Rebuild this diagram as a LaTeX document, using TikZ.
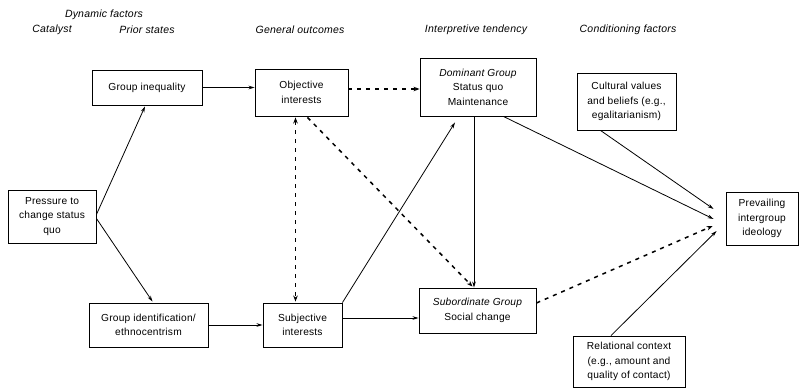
\documentclass[tikz,border=0pt]{standalone}
\usepackage{fontspec}
\setmainfont{Liberation Sans}
\usetikzlibrary{arrows.meta,calc}
\begin{document}
\begin{tikzpicture}[x=1pt,y=-1pt,
  box/.style={draw,line width=0.9pt,align=center,font=\fontsize{10.2}{14.5}\selectfont\addfontfeatures{LetterSpace=2},inner sep=1pt},
  hdr/.style={font=\fontsize{10.5}{12}\selectfont\itshape\addfontfeatures{LetterSpace=2}},
  arr/.style={line width=0.8pt,-{Stealth[length=6pt,width=3.6pt]}},
  darr/.style={line width=1.5pt,dash pattern=on 4pt off 5pt,-{Stealth[length=6pt,width=4.5pt]}},
  ddarr/.style={line width=1.5pt,dash pattern=on 4pt off 5pt,{Stealth[length=6pt,width=4.5pt]}-{Stealth[length=6pt,width=4.5pt]}}]
\useasboundingbox (0,0) rectangle (799,388);
% headers
\node[hdr] (h0) at (104,15) {Dynamic factors};
\node[hdr] (h1) at (52,30) {Catalyst};
\node[hdr] (h2) at (147,30) {Prior states};
\node[hdr] (h3) at (300,30) {General outcomes};
\node[hdr] (h4) at (476,30) {Interpretive tendency};
\node[hdr] (h5) at (628,30) {Conditioning factors};
% boxes
\node[box,minimum width=110pt,minimum height=35pt] (gi) at (147,87.5) {Group inequality};
\node[box,minimum width=93pt,minimum height=47pt] (obj) at (301.5,92.5) {Objective\\interests};
\node[box,minimum width=116pt,minimum height=58pt] (dom) at (478,87) {\textit{Dominant Group}\\Status quo\\Maintenance};
\node[box,minimum width=99pt,minimum height=57pt] (cul) at (626.5,101.5) {Cultural values\\and beliefs (e.g.,\\egalitarianism)};
\node[box,minimum width=88pt,minimum height=53pt] (pres) at (52,216.5) {Pressure to\\change status\\quo};
\node[box,minimum width=72pt,minimum height=53pt] (prev) at (762,218.5) {Prevailing\\intergroup\\ideology};
\node[box,minimum width=119pt,minimum height=44pt] (gid) at (148.5,325) {Group identification/\\ethnocentrism};
\node[box,minimum width=79pt,minimum height=44pt] (subj) at (302.5,325) {Subjective\\interests};
\node[box,minimum width=117pt,minimum height=45pt] (sub) at (477.5,310.5) {\textit{Subordinate Group}\\Social change};
\node[box,minimum width=112pt,minimum height=51pt] (rel) at (629,361.5) {Relational context\\(e.g., amount and\\quality of contact)};
% connectors
\draw[arr] ($(pres.east)+(0,-2)$) -- ($(gi.south)+(-2,1)$);
\draw[arr] ($(pres.east)+(0,2)$) -- ($(gid.north)+(4,-1)$);
\draw[arr] (gi.east) -- (gi.east -| obj.west);
\draw[arr] (gid.east) -- (gid.east -| subj.west);
\draw[darr] ($(obj.east)+(0,-3.5)$) -- ($(obj.east -| dom.west)+(0,-3.5)$);
\draw[ddarr] ($(obj.south)+(-6,1)$) -- ($(subj.north)+(-7,-1)$);
\draw[darr] ($(obj.south)+(6,1)$) -- ($(sub.north)+(-5,-1)$);
\draw[arr] (subj.north east) -- ($(dom.south)+(-23,6)$);
\draw[arr] ($(subj.east)+(0,-7)$) -- ($(subj.east -| sub.west)+(0,-7)$);
\draw[arr] ($(dom.south)+(-4,0)$) -- ($(sub.north)+(-3.5,0)$);
\draw[arr] ($(dom.south east)+(-33,0)$) -- ($(prev.west)+(-12,0.5)$);
\draw[arr] ($(cul.south)+(-26,0)$) -- ($(prev.west)+(-12,-9.5)$);
\draw[darr] ($(sub.east)+(0,-7.5)$) -- ($(prev.west)+(-13,7.5)$);
\draw[arr] ($(rel.north)+(-18,0)$) -- ($(prev.west)+(-9,12.5)$);
\end{tikzpicture}
\end{document}
